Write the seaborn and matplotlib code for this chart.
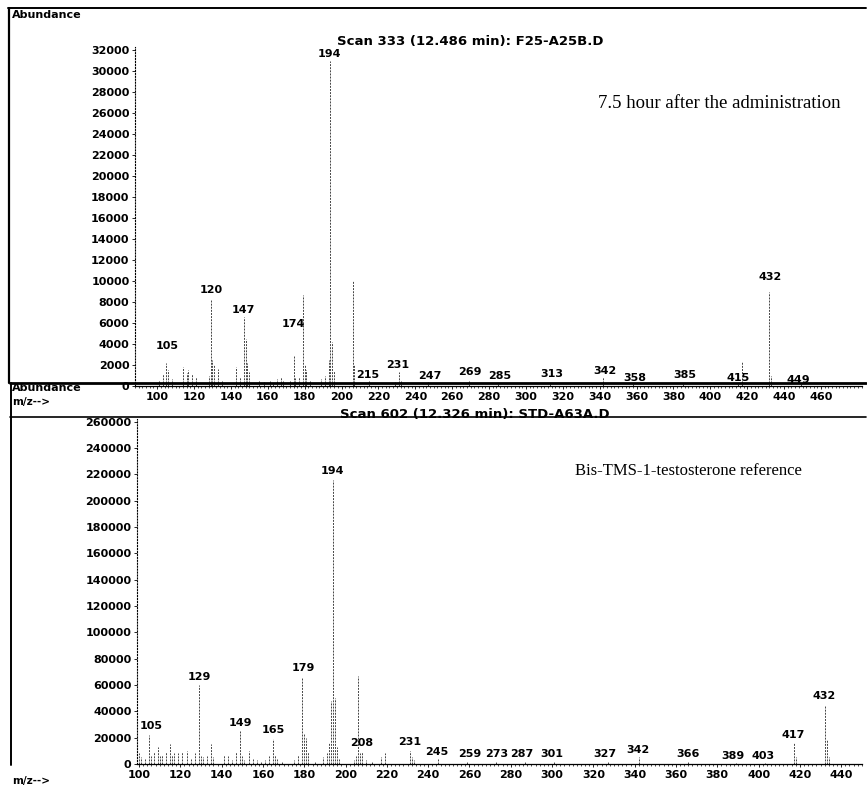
import numpy as np
import pandas as pd
import matplotlib.pyplot as plt
import seaborn as sns
from matplotlib.lines import Line2D
from matplotlib.ticker import MultipleLocator, StrMethodFormatter

###########################
### DATA
###########################
# top spectrum: 7.5 h after administration (Scan 333)
top_mz = [101, 103, 105, 106, 108, 114, 116, 117, 119, 121, 128, 129, 130, 131, 133,
          135, 143, 145, 147, 148, 149, 150, 155, 158, 161, 163, 165, 167, 168, 172,
          174, 175, 177, 179, 180, 181, 183, 189, 191, 193, 194, 195, 196, 206, 207,
          215, 229, 231, 232, 247, 269, 285, 313, 342, 358, 385, 415, 417, 432, 433, 449]
top_abund = [600, 1100, 2200, 1500, 700, 1800, 1200, 1500, 1100, 900, 1000, 8200, 2500, 2000, 1600,
             600, 1800, 900, 6600, 4500, 2200, 1300, 600, 400, 500, 300, 700, 900, 600, 600,
             3000, 800, 900, 8700, 2000, 1500, 600, 700, 1000, 2500, 31000, 4200, 1400, 10000, 2000,
             500, 400, 1300, 500, 400, 500, 300, 300, 900, 200, 300, 300, 2300, 9000, 1000, 200]
top_lbl_text = ["105", "120", "147", "174", "194", "215", "231", "247", "269", "285",
                "313", "342", "358", "385", "415", "432", "449"]
top_lbl_mz = [105.3, 129.3, 146.6, 173.8, 193.3, 214.4, 230.7, 248, 269.7, 286,
              314, 343, 359, 386, 415, 432.4, 447.6]
top_lbl_y = [3200, 8500, 6600, 5300, 31000, 400, 1400, 300, 760, 300,
             570, 860, 200, 400, 200, 9800, 0]

# bottom spectrum: Bis-TMS-1-testosterone reference (Scan 602)
ref_mz = [100, 101, 103, 105, 106, 107, 109, 110, 111, 113, 115, 116, 117, 119, 121,
          123, 125, 127, 129, 130, 131, 133, 135, 136, 141, 143, 145, 147, 149, 150,
          151, 153, 155, 157, 159, 161, 163, 165, 166, 167, 169, 175, 177, 179, 180,
          181, 182, 185, 189, 191, 192, 193, 194, 195, 196, 197, 204, 205, 206, 207,
          208, 210, 213, 217, 219, 231, 232, 233, 245, 259, 273, 287, 301, 327, 342,
          366, 389, 403, 417, 418, 432, 433, 434]
ref_abund = [8000, 5000, 4000, 22000, 6000, 9000, 13000, 6000, 7000, 9000, 15000, 7000, 8000, 8000, 9000,
             10000, 4000, 8000, 60000, 6000, 5000, 6000, 15000, 5000, 7000, 6000, 3000, 9000, 25000, 6000,
             3000, 10000, 4000, 3000, 2000, 3000, 6000, 19000, 7000, 4000, 2000, 3000, 7000, 66000, 23000,
             20000, 9000, 2000, 5000, 8000, 16000, 48000, 216000, 50000, 13000, 4000, 3000, 6000, 67000, 8000,
             9000, 3000, 2000, 5000, 8000, 10000, 5000, 3000, 4000, 2000, 2000, 1500, 2000, 2000, 5000,
             2000, 1000, 1000, 16000, 5000, 45000, 18000, 5000]
ref_lbl_text = ["105", "129", "149", "165", "179", "194", "208", "231", "245", "259",
                "273", "287", "301", "327", "342", "366", "389", "403", "417", "432"]
ref_lbl_mz = [105.8, 129, 149, 165, 179.4, 193.5, 208, 231.2, 244, 260,
              273.4, 285.5, 300, 325.7, 341.6, 366, 387.6, 402, 416.7, 431.7]
ref_lbl_y = [24000, 61500, 26000, 21000, 68000, 218000, 11000, 12000, 4500, 3000,
             3000, 2500, 2800, 3000, 6000, 3000, 1500, 1500, 17000, 47000]

top_df = pd.DataFrame({"mz": top_mz, "abundance": top_abund})
ref_df = pd.DataFrame({"mz": ref_mz, "abundance": ref_abund})

###########################
### STYLE
###########################
sns.set_theme(style="white")
plt.rcParams['font.family'] = ['DejaVu Sans']
plt.rcParams['font.weight'] = 'bold'
plt.rcParams['text.color'] = 'black'
plt.rcParams['xtick.color'] = 'black'
plt.rcParams['ytick.color'] = 'black'

W, H = 867, 789
fig = plt.figure(figsize=(W / 100, H / 100), dpi=100)


def px_rect(left, top, right, bottom):
    return [left / W, 1 - bottom / H, (right - left) / W, (bottom - top) / H]


def fig_line(x0, y0, x1, y1, lw):
    fig.add_artist(Line2D([x0 / W, x1 / W], [1 - y0 / H, 1 - y1 / H],
                          transform=fig.transFigure, color='black', lw=lw))


def fig_text(x, y, s, **kw):
    fig.text(x / W, 1 - y / H, s, color='black', **kw)


tick_fs = 8
lbl_fs = 8


def draw_spectrum(ax, df, lbl_text, lbl_mz, lbl_y, xlim, ylim, ystep, xmax_tick):
    ax.vlines(df["mz"], 0, df["abundance"], color='#444444', lw=0.7,
              linestyles=(0, (2.0, 1.2)))
    for t, m, y in zip(lbl_text, lbl_mz, lbl_y):
        ax.annotate(t, (m, y), xytext=(0, 1), textcoords='offset points',
                    ha='center', va='bottom', fontsize=lbl_fs, color='black',
                    annotation_clip=False)
    ax.set_xlim(*xlim)
    ax.set_ylim(*ylim)
    ax.set_xticks(np.arange(100, xmax_tick + 1, 20))
    ax.xaxis.set_minor_locator(MultipleLocator(2))
    ax.yaxis.set_major_locator(MultipleLocator(ystep))
    ax.yaxis.set_major_formatter(StrMethodFormatter('{x:.0f}'))
    ax.tick_params(axis='both', which='major', labelsize=tick_fs, length=2.5,
                   width=0.6, pad=1.5, colors='black', bottom=True, left=True)
    ax.tick_params(axis='x', which='minor', length=1.2, width=0.5, bottom=True)
    sns.despine(ax=ax, top=True, right=True)
    ax.spines['left'].set_linestyle(':')
    ax.spines['left'].set_linewidth(0.8)
    ax.spines['left'].set_color('black')
    ax.spines['bottom'].set_linewidth(0.9)
    ax.spines['bottom'].set_color('black')
    ax.set_facecolor('none')
    ax.grid(False)


ax1 = fig.add_axes(px_rect(135, 47, 862, 386))
draw_spectrum(ax1, top_df, top_lbl_text, top_lbl_mz, top_lbl_y,
              (88, 88 + 727 / 1.844), (0, 32300), 2000, 460)

ax2 = fig.add_axes(px_rect(137, 419, 862, 764))
draw_spectrum(ax2, ref_df, ref_lbl_text, ref_lbl_mz, ref_lbl_y,
              (99, 99 + 725 / 2.065), (0, 262000), 20000, 440)

###########################
### FRAMES AND HEADERS
###########################
fig_line(8, 8, 866, 8, 1.4)
fig_line(9, 8, 9, 383, 1.6)
fig_line(10, 383, 866, 383, 2.0)
fig_line(10, 417, 866, 417, 1.2)
fig_line(11, 383, 11, 765, 1.4)

fig_text(12, 15, "Abundance", fontsize=8, ha='left', va='center')
fig_text(12, 388, "Abundance", fontsize=8, ha='left', va='center')
fig_text(12, 402, "m/z-->", fontsize=7.5, ha='left', va='center')
fig_text(12, 781, "m/z-->", fontsize=7.5, ha='left', va='center')

fig_text(470, 42, "Scan 333 (12.486 min): F25-A25B.D", fontsize=9.5,
         ha='center', va='center')
fig_text(475, 414, "Scan 602 (12.326 min): STD-A63A.D", fontsize=9.5,
         ha='center', va='center')

fig_text(598, 103, "7.5 hour after the administration", fontsize=13.5,
         family='Liberation Serif', fontweight='normal', ha='left', va='center')
fig_text(575, 471, "Bis-TMS-1-testosterone reference", fontsize=12,
         family='Liberation Serif', fontweight='normal', ha='left', va='center')

plt.savefig("out.png", dpi=100)
plt.close()
